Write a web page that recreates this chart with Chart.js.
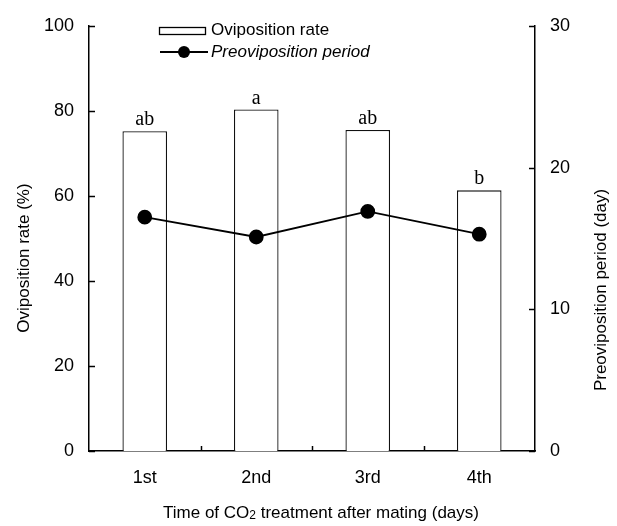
<!DOCTYPE html>
<html>
<head>
<meta charset="utf-8">
<script src="https://cdn.jsdelivr.net/npm/chart.js@4.4.0/dist/chart.umd.min.js"></script>
<style>
  html, body { margin: 0; padding: 0; background: #fff; }
</style>
</head>
<body>
<canvas id="chart" width="617" height="526"></canvas>
<script>
const categories = ['1st', '2nd', '3rd', '4th'];
const ovipositionRate = [75.2, 80.3, 75.5, 61.3];
const preovipositionPeriod = [16.5, 15.1, 16.9, 15.3];
const significance = ['ab', 'a', 'ab', 'b'];
const leftTicks = [0, 20, 40, 60, 80, 100];
const rightTicks = [0, 10, 20, 30];

const sans = "'Liberation Sans', Arial, sans-serif";
const serif = "'Liberation Serif', 'Times New Roman', serif";

// inward tick marks, letters over bars, legend and axis titles
const decorations = {
    id: 'decorations',
    afterDraw(chart) {
        const ctx = chart.ctx;
        const area = chart.chartArea;
        const x = chart.scales.x;
        const y = chart.scales.y;
        const y1 = chart.scales.y1;
        ctx.save();
        ctx.strokeStyle = '#000';
        ctx.lineWidth = 1.5;

        leftTicks.forEach(v => {
            let py = Math.round(y.getPixelForValue(v)) + 0.5;
            ctx.beginPath();
            ctx.moveTo(area.left, py);
            ctx.lineTo(area.left + 6, py);
            ctx.stroke();
        });
        rightTicks.forEach(v => {
            let py = Math.round(y1.getPixelForValue(v)) + 0.5;
            ctx.beginPath();
            ctx.moveTo(area.right, py);
            ctx.lineTo(area.right - 6, py);
            ctx.stroke();
        });
        for (let i = 0; i < categories.length - 1; i++) {
            let px = Math.round((x.getPixelForValue(i) + x.getPixelForValue(i + 1)) / 2) + 0.5;
            ctx.beginPath();
            ctx.moveTo(px, area.bottom);
            ctx.lineTo(px, area.bottom - 5);
            ctx.stroke();
        }

        // significance letters
        ctx.fillStyle = '#000';
        ctx.font = '20px ' + serif;
        ctx.textAlign = 'center';
        ctx.textBaseline = 'alphabetic';
        significance.forEach((s, i) => {
            ctx.fillText(s, x.getPixelForValue(i), y.getPixelForValue(ovipositionRate[i]) - 6);
        });

        // legend
        ctx.lineWidth = 1.3;
        ctx.strokeRect(159.5, 27.5, 46, 7);
        ctx.textAlign = 'left';
        ctx.textBaseline = 'middle';
        ctx.font = '17px ' + sans;
        ctx.fillText('Oviposition rate', 211, 30);
        ctx.lineWidth = 1.8;
        ctx.beginPath();
        ctx.moveTo(160, 52);
        ctx.lineTo(208, 52);
        ctx.stroke();
        ctx.beginPath();
        ctx.arc(184, 52, 6, 0, Math.PI * 2);
        ctx.fill();
        ctx.font = 'italic 17px ' + sans;
        ctx.fillText('Preoviposition period', 211, 52);

        // axis titles
        ctx.font = '17px ' + sans;
        ctx.textAlign = 'center';
        ctx.save();
        ctx.translate(24, 258);
        ctx.rotate(-Math.PI / 2);
        ctx.fillText('Oviposition rate (%)', 0, 0);
        ctx.restore();
        ctx.save();
        ctx.translate(601, 290);
        ctx.rotate(-Math.PI / 2);
        ctx.fillText('Preoviposition period (day)', 0, 0);
        ctx.restore();

        let parts = ['Time of CO', '2', ' treatment after mating (days)'];
        ctx.font = '17px ' + sans;
        let w0 = ctx.measureText(parts[0]).width;
        let w2 = ctx.measureText(parts[2]).width;
        ctx.font = '12px ' + sans;
        let w1 = ctx.measureText(parts[1]).width;
        let sx = 321 - (w0 + w1 + w2) / 2;
        let by = 518;
        ctx.textAlign = 'left';
        ctx.textBaseline = 'alphabetic';
        ctx.font = '17px ' + sans;
        ctx.fillText(parts[0], sx, by);
        ctx.font = '12px ' + sans;
        ctx.fillText(parts[1], sx + w0, by + 1);
        ctx.font = '17px ' + sans;
        ctx.fillText(parts[2], sx + w0 + w1, by);
        ctx.restore();
    }
};

let ctx = document.getElementById('chart');
let chart = new Chart(ctx, {
    data: {
        labels: categories,
        datasets: [{
            type: 'line',
            data: preovipositionPeriod,
            yAxisID: 'y1',
            borderColor: '#000',
            borderWidth: 1.8,
            pointRadius: 6.5,
            pointBackgroundColor: '#000',
            pointBorderColor: '#000',
            tension: 0,
            order: 1
        }, {
            type: 'bar',
            data: ovipositionRate,
            yAxisID: 'y',
            backgroundColor: '#fff',
            borderColor: '#111',
            borderWidth: 1.3,
            categoryPercentage: 1,
            barPercentage: 0.4,
            order: 2
        }]
    },
    options: {
        responsive: false,
        animation: false,
        layout: { padding: { top: 19, left: 0, right: 0, bottom: 0 } },
        plugins: {
            legend: { display: false },
            tooltip: { enabled: false }
        },
        scales: {
            x: {
                grid: { display: false, drawTicks: false },
                border: { display: true, color: '#000', width: 1.5 },
                ticks: { color: '#000', padding: 16, font: { family: sans, size: 18 } },
                afterFit: s => { s.height = 75; }
            },
            y: {
                position: 'left',
                min: 0,
                max: 100,
                grid: { display: false, drawTicks: false },
                border: { display: true, color: '#000', width: 1.5 },
                ticks: { stepSize: 20, color: '#000', padding: 15, font: { family: sans, size: 18 } },
                afterFit: s => { s.width = 89; }
            },
            y1: {
                position: 'right',
                min: 0,
                max: 30,
                grid: { display: false, drawTicks: false },
                border: { display: true, color: '#000', width: 1.5 },
                ticks: { stepSize: 10, color: '#000', padding: 15, font: { family: sans, size: 18 } },
                afterFit: s => { s.width = 82; }
            }
        }
    },
    plugins: [decorations]
});
</script>
</body>
</html>
